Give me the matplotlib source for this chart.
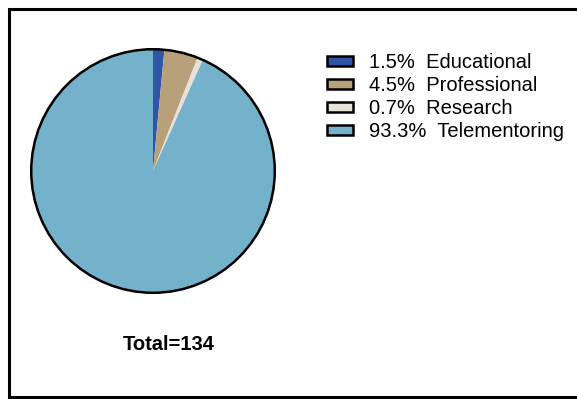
import matplotlib
matplotlib.use("Agg")
import matplotlib.pyplot as plt
from matplotlib.patches import Rectangle, Circle
from matplotlib.lines import Line2D

categories = ["Educational", "Professional", "Research", "Telementoring"]
counts = [2, 6, 1, 125]
percent_labels = ["1.5%", "4.5%", "0.7%", "93.3%"]
colors = ["#2E55A6", "#B8A07A", "#E6E2D8", "#74B1CB"]
total = 134

plt.rcParams['font.family'] = ['Liberation Sans', 'DejaVu Sans']

fig = plt.figure(figsize=(5.77, 3.99), dpi=100)
fig.patch.set_facecolor("white")

# outer frame (left, top, bottom; open on the right)
W, H = 577, 399
xl, yt, yb = 8.5 / W, 1 - 8.5 / H, 1 - 397 / H
fig.add_artist(Line2D([1.01, xl, xl, 1.01], [yt, yt, yb, yb], transform=fig.transFigure,
                      color="black", linewidth=2.2, solid_joinstyle="miter"))

ax = fig.add_axes([30 / W, 1 - 294 / H, 246 / W, 246 / H])
wedges, _ = ax.pie(counts, colors=colors, startangle=90, counterclock=False,
                   wedgeprops=dict(linewidth=0))
ax.add_patch(Circle((0, 0), 1, fill=False, edgecolor="black", linewidth=1.8))
ax.set_xlim(-1.01, 1.01)
ax.set_ylim(-1.01, 1.01)
ax.set_aspect("equal")
ax.axis("off")

handles = [Rectangle((0, 0), 1, 1, facecolor=c, edgecolor="black", linewidth=1.8) for c in colors]
labels = [f"{p}  {c}" for p, c in zip(percent_labels, categories)]
fig.legend(handles, labels, loc="upper left", bbox_to_anchor=(327 / W, 1 - 53 / H),
           frameon=False, fontsize=14.5, handlelength=1.3, handleheight=0.39,
           labelspacing=0.2, handletextpad=0.8, borderpad=0, borderaxespad=0)

fig.text(169 / W, 1 - 345 / H, f"Total={total}", ha="center", va="center",
         fontsize=14.5, fontweight="bold")

fig.savefig("out.png", dpi=100)
